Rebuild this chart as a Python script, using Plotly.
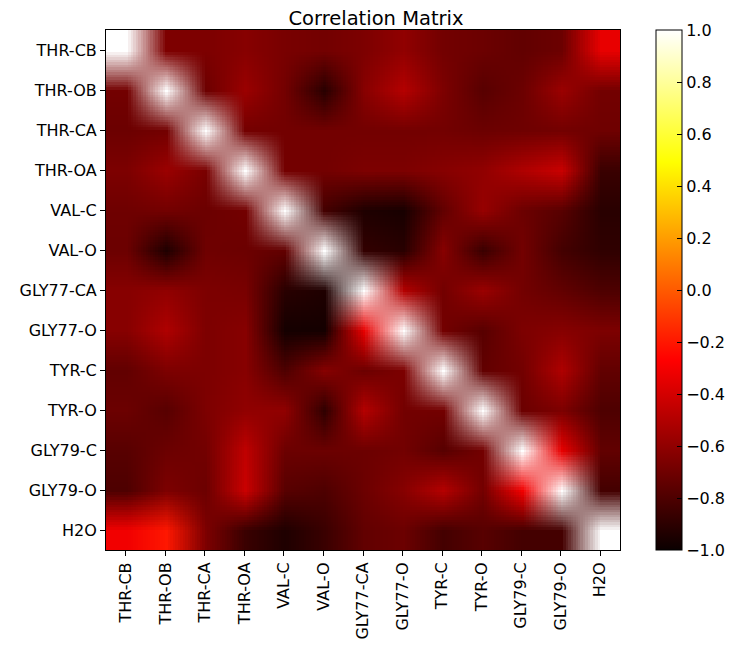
import plotly.graph_objects as go

# residue atom labels (rows and columns of the matrix)
labels = ["THR-CB", "THR-OB", "THR-CA", "THR-OA", "VAL-C", "VAL-O",
          "GLY77-CA", "GLY77-O", "TYR-C", "TYR-O", "GLY79-C", "GLY79-O", "H2O"]

# correlation values, one list per row
thr_cb = [1.00, -0.66, -0.66, -0.63, -0.67, -0.69, -0.66, -0.60, -0.69, -0.71, -0.74, -0.71, -0.34]
thr_ob = [-0.69, 1.00, -0.71, -0.57, -0.69, -0.91, -0.63, -0.49, -0.66, -0.77, -0.71, -0.57, -0.69]
thr_ca = [-0.71, -0.69, 1.00, -0.69, -0.69, -0.69, -0.69, -0.69, -0.69, -0.71, -0.70, -0.69, -0.70]
thr_oa = [-0.66, -0.57, -0.67, 1.00, -0.69, -0.69, -0.66, -0.66, -0.63, -0.60, -0.51, -0.43, -0.86]
val_c = [-0.70, -0.69, -0.71, -0.69, 1.00, -0.83, -0.94, -0.96, -0.74, -0.58, -0.71, -0.77, -0.91]
val_o = [-0.71, -0.94, -0.70, -0.71, -0.74, 1.00, -0.88, -0.91, -0.63, -0.86, -0.69, -0.83, -0.89]
gly77_ca = [-0.63, -0.60, -0.66, -0.67, -0.91, -0.94, 1.00, -0.49, -0.69, -0.57, -0.69, -0.74, -0.80]
gly77_o = [-0.63, -0.51, -0.66, -0.63, -0.97, -0.97, -0.34, 1.00, -0.69, -0.77, -0.66, -0.63, -0.66]
tyr_c = [-0.74, -0.66, -0.66, -0.63, -0.80, -0.63, -0.71, -0.66, 1.00, -0.74, -0.69, -0.51, -0.74]
tyr_o = [-0.71, -0.77, -0.66, -0.60, -0.60, -0.89, -0.49, -0.69, -0.69, 1.00, -0.71, -0.66, -0.80]
gly79_c = [-0.77, -0.71, -0.69, -0.46, -0.71, -0.71, -0.71, -0.69, -0.77, -0.69, 1.00, -0.34, -0.74]
gly79_o = [-0.80, -0.66, -0.71, -0.43, -0.77, -0.80, -0.71, -0.63, -0.49, -0.69, -0.31, 1.00, -0.83]
h2o = [-0.31, -0.20, -0.66, -0.86, -0.94, -0.86, -0.74, -0.71, -0.83, -0.77, -0.83, -0.83, 1.00]

corr = [thr_cb, thr_ob, thr_ca, thr_oa, val_c, val_o, gly77_ca, gly77_o,
        tyr_c, tyr_o, gly79_c, gly79_o, h2o]

cbar_ticks = [-1.0, -0.8, -0.6, -0.4, -0.2, 0.0, 0.2, 0.4, 0.6, 0.8, 1.0]

# matplotlib "hot"
hot = [[0.0, "rgb(11,0,0)"], [0.365079, "rgb(255,0,0)"],
       [0.746032, "rgb(255,255,0)"], [1.0, "rgb(255,255,255)"]]

fig = go.Figure(go.Heatmap(
    z=corr, x=labels, y=labels,
    zmin=-1, zmax=1, colorscale=hot, zsmooth="fast",
    colorbar=dict(
        x=1.071, xanchor="left", y=0.5, yanchor="middle",
        len=520, lenmode="pixels", thickness=26,
        outlinewidth=1, outlinecolor="black",
        ticks="inside", ticklen=5, tickcolor="black",
        tickvals=cbar_ticks,
        ticktext=[("%.1f" % t).replace("-", "\u2212") for t in cbar_ticks],
        tickfont=dict(size=16, color="black"),
        xpad=0, ypad=0,
    ),
))

# page has an 8px body margin, so the margins are shifted by it
fig.update_layout(
    width=736, height=651,
    margin=dict(l=92, r=124, t=22, b=109),
    paper_bgcolor="white", plot_bgcolor="white",
    font=dict(family="DejaVu Sans", size=16, color="black"),
    title=dict(text="Correlation Matrix", x=0.5, xanchor="center",
               y=1 - 10 / 651, yanchor="middle", font=dict(size=19.5)),
)
fig.update_xaxes(showline=True, mirror=True, linecolor="black", linewidth=1,
                 ticks="outside", ticklen=5, tickcolor="black", tickangle=-90,
                 showgrid=False, zeroline=False)
fig.update_yaxes(showline=True, mirror=True, linecolor="black", linewidth=1,
                 ticks="outside", ticklen=5, tickcolor="black",
                 autorange="reversed", showgrid=False, zeroline=False)

fig.write_html("out.html")
